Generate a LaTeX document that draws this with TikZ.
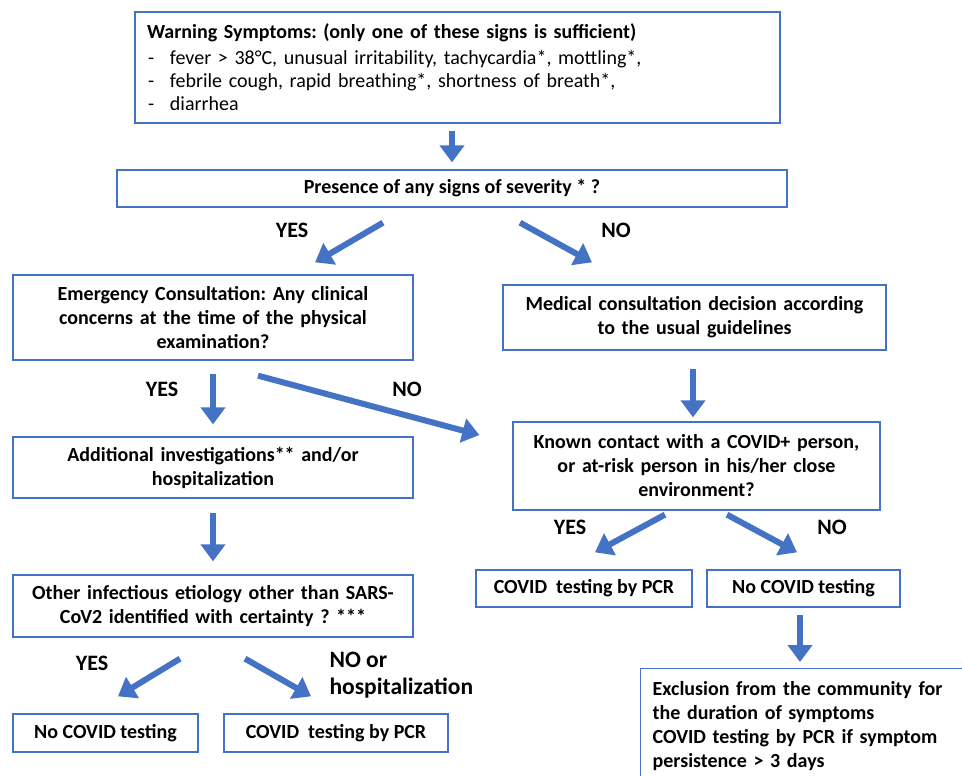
\documentclass[tikz,border=0pt]{standalone}
\usepackage{fontspec}
\setmainfont{Carlito}
\usepackage{tikz}
\usetikzlibrary{arrows.meta,positioning,calc}
\definecolor{boxblue}{HTML}{4472C4}
\frenchspacing

\begin{document}
\begin{tikzpicture}[x=1pt,y=-1pt,
  flowbox/.style={draw=boxblue, line width=1.3pt, fill=white, align=center, inner sep=0pt,
    font=\fontsize{20}{24}\selectfont\bfseries},
  flowarrow/.style={draw=boxblue, line width=6pt, -{Triangle[length=17pt,width=24pt]}},
  answer/.style={font=\fontsize{22}{24}\selectfont\bfseries}]
\useasboundingbox (0,0) rectangle (962,776);
\clip (0,0) rectangle (962,776);
%Nodes
\node[flowbox, minimum width=645pt, minimum height=111pt, text width=621pt, align=left,
  font=\fontsize{20}{23}\selectfont\bfseries] (warn) at (457.5,67.5)
  {Warning Symptoms: (only one of these signs is sufficient)\\[3pt]
   \mdseries\makebox[23pt][l]{\hspace{1pt}-}fever > 38°C, unusual irritability, tachycardia*, mottling*,\\
   \mdseries\makebox[23pt][l]{\hspace{1pt}-}febrile cough, rapid breathing*, shortness of breath*,\\
   \mdseries\makebox[23pt][l]{\hspace{1pt}-}diarrhea};
\node[flowbox, minimum width=670pt, minimum height=37pt] (presence) at (452,188.5) {Presence of any signs of severity * ?};
\node[flowbox, minimum width=400pt, minimum height=85pt, text width=390pt] (emerg) at (213,317.5)
  {Emergency Consultation: Any clinical\\concerns at the time of the physical\\examination?};
\node[flowbox, minimum width=383pt, minimum height=65pt, text width=375pt] (medical) at (694.5,317.5)
  {Medical consultation decision according\\to the usual guidelines};
\node[flowbox, minimum width=400pt, minimum height=61pt, text width=390pt] (addinv) at (213,467.5)
  {Additional investigations** and/or\\hospitalization};
\node[flowbox, minimum width=367pt, minimum height=88pt, text width=360pt] (known) at (696.5,466)
  {Known contact with a COVID+ person,\\or at-risk person in his/her close\\environment?};
\node[flowbox, minimum width=400pt, minimum height=62pt, text width=396pt] (other) at (213,606)
  {Other infectious etiology other than SARS-\\CoV2 identified with certainty ? ***};
\node[flowbox, minimum width=216pt, minimum height=37pt] (pcrright) at (584,588.5) {COVID\ \ testing by PCR};
\node[flowbox, minimum width=193pt, minimum height=37pt] (nocovright) at (803.5,588.5) {No COVID testing};
\node[flowbox, text width=316pt, align=left, anchor=north west,
  inner xsep=12pt, inner ysep=13pt] (exclusion) at (640,668)
  {Exclusion from the community for\\the duration of symptoms\\COVID testing by PCR if symptom\\persistence > 3 days\\[20pt]~};
\node[flowbox, minimum width=185pt, minimum height=38pt] (nocovleft) at (105.5,733) {No COVID testing};
\node[flowbox, minimum width=224pt, minimum height=38pt] (pcrleft) at (336,733) {COVID\ \ testing by PCR};

\node[answer] (yes1) at (292,230) {YES};
\node[answer] (no1) at (616,230) {NO};
\node[answer] (yes2) at (162,389) {YES};
\node[answer] (no2) at (407,389) {NO};
\node[answer] (yes3) at (570,527) {YES};
\node[answer] (no3) at (832,527) {NO};
\node[answer] (yes4) at (92,663) {YES};
\node[answer, align=left, anchor=west, font=\fontsize{23.5}{27}\selectfont\bfseries] (no4) at (326,675) {NO or\\hospitalization};

\draw[flowarrow, shorten <=7pt, shorten >=7pt] (warn.south -| presence.north) -- (presence.north);
\draw[flowarrow] ($(presence.south)+(-69,15)$) -- ($(emerg.north)+(102,-12)$);
\draw[flowarrow] ($(presence.south)+(68,15)$) -- ($(medical.north)+(-102.5,-22)$);
\draw[flowarrow, shorten <=13pt, shorten >=12pt] (emerg) -- (addinv);
\draw[flowarrow] ($(emerg.south)+(45,15)$) -- ($(known.west)+(-33,-31)$);
\draw[flowarrow, shorten <=18pt, shorten >=4pt] ([xshift=-1.5pt]medical.south) -- ([xshift=-1.5pt]medical.south |- known.north);
\draw[flowarrow, shorten <=14pt, shorten >=13pt] (addinv) -- (other);
\draw[flowarrow] ($(known.south)+(-31.5,4)$) -- ($(pcrright.north)+(11,-17)$);
\draw[flowarrow] ($(known.south)+(30.5,4)$) -- ($(nocovright.north)+(-6.5,-17)$);
\draw[flowarrow, shorten <=7pt, shorten >=6pt] ([xshift=-3.5pt]nocovright.south) -- ([xshift=-3.5pt]nocovright.south |- exclusion.north);
\draw[flowarrow] ($(other.south)+(-33,21)$) -- ($(nocovleft.north)+(12.5,-17)$);
\draw[flowarrow] ($(other.south)+(32,21)$) -- ($(pcrleft.north)+(-25,-17)$);
\end{tikzpicture}
\end{document}
